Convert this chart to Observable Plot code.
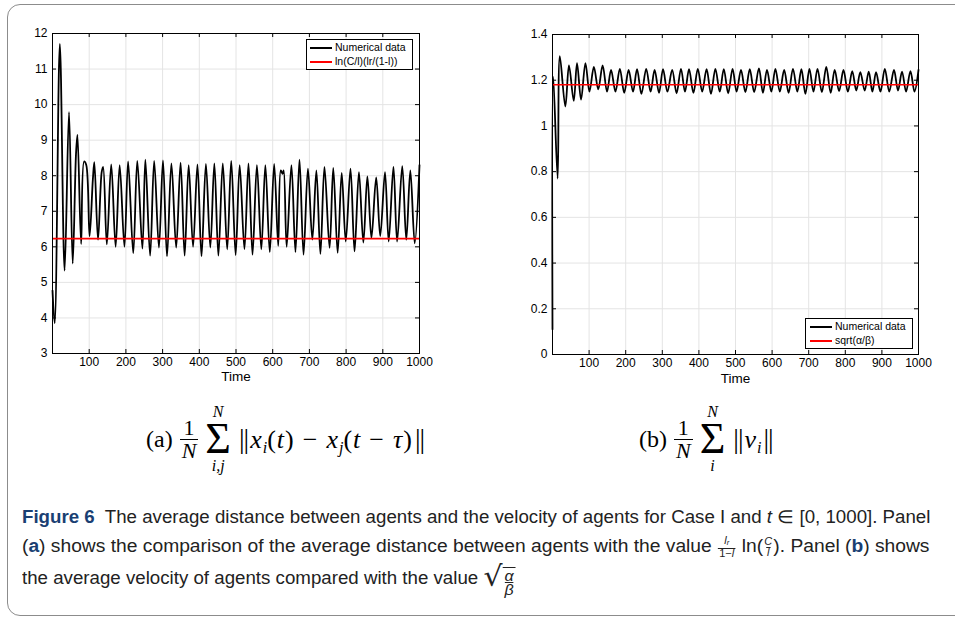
<!DOCTYPE html>
<html><head><meta charset="utf-8">
<script src="https://cdn.jsdelivr.net/npm/d3@7"></script>
<script src="https://cdn.jsdelivr.net/npm/@observablehq/plot@0.6"></script>
<style>
body{margin:0;background:#fff;}
#wrap{position:relative;width:955px;height:621px;overflow:hidden;background:#fff;font-family:"Liberation Sans",Arial,sans-serif;}
#box{position:absolute;left:7px;top:4px;width:990px;height:610px;border:1.3px solid #8c8c8c;border-radius:13px;}
.panel{position:absolute;top:0;}
.legend{position:absolute;border:1px solid #000;background:#fff;font-size:10.5px;line-height:13.5px;padding:1px 0;box-sizing:border-box;}
.legend .row{position:relative;height:14px;white-space:nowrap;}
.legend .sw{position:absolute;top:6px;width:22px;height:2px;}
.legend .lab{position:absolute;top:0;}
.math{position:absolute;display:flex;align-items:center;font-family:"Liberation Serif","DejaVu Serif",serif;font-size:24px;color:#000;white-space:nowrap;}
.frac{display:inline-flex;flex-direction:column;align-items:center;margin:0 4px 0 2px;line-height:22px;font-size:22px;}
.frac .den{border-top:1px solid #000;padding:0 2px;}
.sum{display:inline-flex;flex-direction:column;align-items:center;margin:0 6px 0 3px;}
.sum .lim{font-style:italic;font-size:16px;line-height:16px;}
.sum .lim.top{margin-bottom:4px;}
.sum .lim.bot{margin-top:4px;}
.sum .sig{font-size:44px;line-height:30px;}
.body{font-size:26px;letter-spacing:1px;}
.math sub{font-size:16px;font-style:italic;vertical-align:-5px;line-height:0;letter-spacing:0;}
.nrm{letter-spacing:-1px;margin:0 2px;font-size:28px;font-style:normal;}
.op{margin:0 8px;}
.cap{position:absolute;left:22px;font-family:"Liberation Sans",Arial,sans-serif;font-size:17.5px;color:#222;white-space:nowrap;}
.cap .in{display:inline-block;white-space:nowrap;transform-origin:0 50%;}
.sf{display:inline-flex;flex-direction:column;align-items:center;vertical-align:middle;font-size:10px;line-height:10px;margin:0 1px;}
.sf .d{border-top:1px solid #222;padding:0 1px;}
.sqrt{display:inline-flex;align-items:stretch;vertical-align:middle;}
.sqrt .rad{font-size:28px;line-height:30px;font-family:"DejaVu Sans",sans-serif;}
.sqrt .inr{border-top:1.2px solid #222;display:inline-flex;flex-direction:column;align-items:center;font-style:italic;font-size:15px;line-height:13px;padding:1px 2px 0;margin-top:5px;}
.sqrt .inr .d{border-top:1px solid #222;}
</style></head>
<body><div id="wrap">
<div id="box"></div>
<div id="left" class="panel" style="left:0"></div>
<div id="right" class="panel" style="left:477px"></div>

<div class="legend" style="left:306px;top:39px;width:107px;height:31px;">
  <div class="row"><span class="sw" style="left:3px;background:#000"></span><span class="lab" style="left:28px">Numerical data</span></div>
  <div class="row"><span class="sw" style="left:3px;background:#ff0000"></span><span class="lab" style="left:28px">ln(C/l)(lr/(1-l))</span></div>
</div>
<div class="legend" style="left:805px;top:318px;width:108px;height:31px;">
  <div class="row"><span class="sw" style="left:4px;background:#000"></span><span class="lab" style="left:29px">Numerical data</span></div>
  <div class="row"><span class="sw" style="left:4px;background:#ff0000"></span><span class="lab" style="left:29px">sqrt(α/β)</span></div>
</div>

<div class="math" style="left:146px;top:404px;">
  <span style="margin-right:5px">(a)</span>
  <span class="frac"><span>1</span><span class="den"><i>N</i></span></span>
  <span class="sum"><span class="lim top">N</span><span class="sig">Σ</span><span class="lim bot">i,j</span></span>
  <span class="body"><span class="nrm">||</span><i>x</i><sub>i</sub>(<i>t</i>)<span class="op">−</span><i>x</i><sub>j</sub>(<i>t</i><span class="op">−</span><i>τ</i>)<span class="nrm">||</span></span>
</div>
<div class="math" style="left:639px;top:404px;">
  <span style="margin-right:5px">(b)</span>
  <span class="frac"><span>1</span><span class="den"><i>N</i></span></span>
  <span class="sum"><span class="lim top">N</span><span class="sig">Σ</span><span class="lim bot">i</span></span>
  <span class="body"><span class="nrm">||</span><i>v</i><sub>i</sub><span class="nrm">||</span></span>
</div>

<div class="cap" id="c1" style="top:507px;"><span class="in"><b style="color:#1a3f73">Figure 6</b>&nbsp; The average distance between agents and the velocity of agents for Case I and <i>t</i> ∈ [0, 1000]. Panel</span></div>
<div class="cap" id="c2" style="top:536px;"><span class="in">(<b style="color:#1a3f73">a</b>) shows the comparison of the average distance between agents with the value <span class="sf"><span><i>l<sub style="font-size:7px;vertical-align:-1px">r</sub></i></span><span class="d">1−<i>l</i></span></span> ln(<span class="sf"><span><i>C</i></span><span class="d"><i>l</i></span></span>). Panel (<b style="color:#1a3f73">b</b>) shows</span></div>
<div class="cap" id="c3" style="top:562px;"><span class="in">the average velocity of agents compared with the value <span class="sqrt"><span class="rad">√</span><span class="inr"><span>α</span><span class="d">β</span></span></span></span></div>
</div>

<script>
// Panel (a): average distance, peaks and troughs
const distT = [0,6,20,33,45,55,64,68,78,86,92,101,110,114,124,134,138,148,160,172,183,196,206,220,231,245,253,266,277,290,301,312,324,337,349,360,371,383,395,406,418,430,441,452,464,476,487,499,510,523,534,545,557,569,580,592,604,615,622,627,630,638,651,662,673,684,696,708,719,730,741,755,765,777,788,799,812,823,835,847,858,869,882,893,906,916,929,939,953,964,975,987,1000];
const distV = [4.77,3.85,11.71,5.33,9.79,5.53,8.6,9.15,6.08,8.4,8.3,6.3,7.9,8.38,6.2,8.1,8.25,6.07,8.32,6.0,8.3,6.0,8.4,5.82,8.42,5.95,8.45,5.75,8.42,5.98,8.43,5.73,8.35,5.98,8.37,5.75,8.3,6.0,8.32,5.73,8.33,5.98,8.35,5.75,8.35,5.93,8.42,5.77,8.3,5.93,8.35,5.78,8.3,5.93,8.3,5.85,8.33,6.03,8.15,8.05,8.15,6.0,8.3,5.85,8.45,5.78,8.2,6.2,8.15,5.8,8.25,5.97,8.22,5.83,8.08,6.15,8.2,5.87,8.1,6.12,7.98,6.25,7.95,6.3,8.1,6.15,8.25,6.15,8.27,6.2,8.15,6.1,8.3];
const distRef = 6.23;
const distYTicks = [3,4,5,6,7,8,9,10,11,12];

// Panel (b): average velocity
const velT = [0,2,14,20,35,45,58,67,78,90,101,113,125,137,149,160,172,184,196,208,220,231,243,256,268,279,291,302,314,327,339,351,362,373,385,397,409,421,433,445,457,468,480,492,503,515,527,539,551,564,575,586,598,609,621,633,645,657,669,680,691,702,713,724,736,748,760,771,783,795,807,819,830,841,853,864,874,884,896,908,920,933,944,955,966,978,989,1000];
const velV = [0.11,1.215,0.77,1.305,1.085,1.265,1.11,1.275,1.115,1.275,1.15,1.258,1.16,1.265,1.15,1.245,1.15,1.25,1.145,1.245,1.15,1.248,1.14,1.25,1.15,1.245,1.145,1.248,1.15,1.245,1.143,1.25,1.15,1.248,1.145,1.25,1.15,1.248,1.14,1.25,1.15,1.248,1.143,1.25,1.15,1.245,1.148,1.248,1.148,1.252,1.145,1.245,1.15,1.25,1.15,1.245,1.145,1.25,1.15,1.248,1.14,1.25,1.15,1.25,1.148,1.258,1.145,1.245,1.152,1.245,1.15,1.24,1.155,1.235,1.155,1.238,1.15,1.235,1.15,1.25,1.15,1.245,1.155,1.238,1.15,1.24,1.15,1.245];
const velRef = 1.18;
const velYTicks = [0,0.2,0.4,0.6,0.8,1,1.2,1.4];

const xTicks = [100,200,300,400,500,600,700,800,900,1000];
const xDomain = [0,1000];

function panel({t, v, ref, yDomain, yTicks, width, height, ml, mr, mt, mb, timeDy}) {
  const data = t.map((d, i) => ({t: d, v: v[i]}));
  const ph = height - mt - mb, pw = width - ml - mr, tl = 4;
  return Plot.plot({
    width, height, marginLeft: ml, marginRight: mr, marginTop: mt, marginBottom: mb,
    style: {fontFamily: "'Liberation Sans', Arial, sans-serif", fontSize: "12px", color: "#000", background: "transparent", overflow: "visible"},
    x: {domain: xDomain, axis: null},
    y: {domain: yDomain, axis: null},
    marks: [
      Plot.ruleX(xTicks, {x: d => d, stroke: "#e4e4e4", strokeWidth: 1}),
      Plot.ruleY(yTicks, {y: d => d, stroke: "#e4e4e4", strokeWidth: 1}),
      Plot.line(data, {x: "t", y: "v", stroke: "#000", strokeWidth: 1.8, curve: "catmull-rom"}),
      Plot.ruleY([ref], {y: d => d, stroke: "#ff0000", strokeWidth: 1.6}),
      Plot.ruleX(xTicks, {x: d => d, stroke: "#000", insetTop: ph - tl}),
      Plot.ruleX(xTicks, {x: d => d, stroke: "#000", insetBottom: ph - tl}),
      Plot.ruleY(yTicks, {y: d => d, stroke: "#000", insetRight: pw - tl}),
      Plot.ruleY(yTicks, {y: d => d, stroke: "#000", insetLeft: pw - tl}),
      Plot.frame({stroke: "#000", strokeWidth: 1}),
      Plot.text(xTicks, {x: d => d, text: d => String(d), frameAnchor: "bottom", dy: 12, fontSize: 12, fill: "#000"}),
      Plot.text(yTicks, {y: d => d, text: d => String(d), frameAnchor: "left", dx: -5, textAnchor: "end", fontSize: 12, fill: "#000"}),
      Plot.text(["Time"], {text: d => d, frameAnchor: "bottom", dy: timeDy, fontSize: 13.5, fill: "#000"})
    ]
  });
}

document.getElementById("left").appendChild(panel({
  t: distT, v: distV, ref: distRef, yDomain: [3, 12], yTicks: distYTicks,
  width: 477, height: 390, ml: 52, mr: 58, mt: 33, mb: 37, timeDy: 27
}));
document.getElementById("right").appendChild(panel({
  t: velT, v: velV, ref: velRef, yDomain: [0, 1.4], yTicks: velYTicks,
  width: 478, height: 390, ml: 75, mr: 37, mt: 34, mb: 36, timeDy: 28
}));

// fit caption lines to the justified width of the reference
const W = 908;
const in1 = document.querySelector("#c1 .in"), in2 = document.querySelector("#c2 .in"), in3 = document.querySelector("#c3 .in");
const s1 = W / in1.offsetWidth, s2 = W / in2.offsetWidth;
in1.style.transform = `scaleX(${s1})`;
in2.style.transform = `scaleX(${s2})`;
in3.style.transform = `scaleX(${s1})`;
</script>
</body></html>
